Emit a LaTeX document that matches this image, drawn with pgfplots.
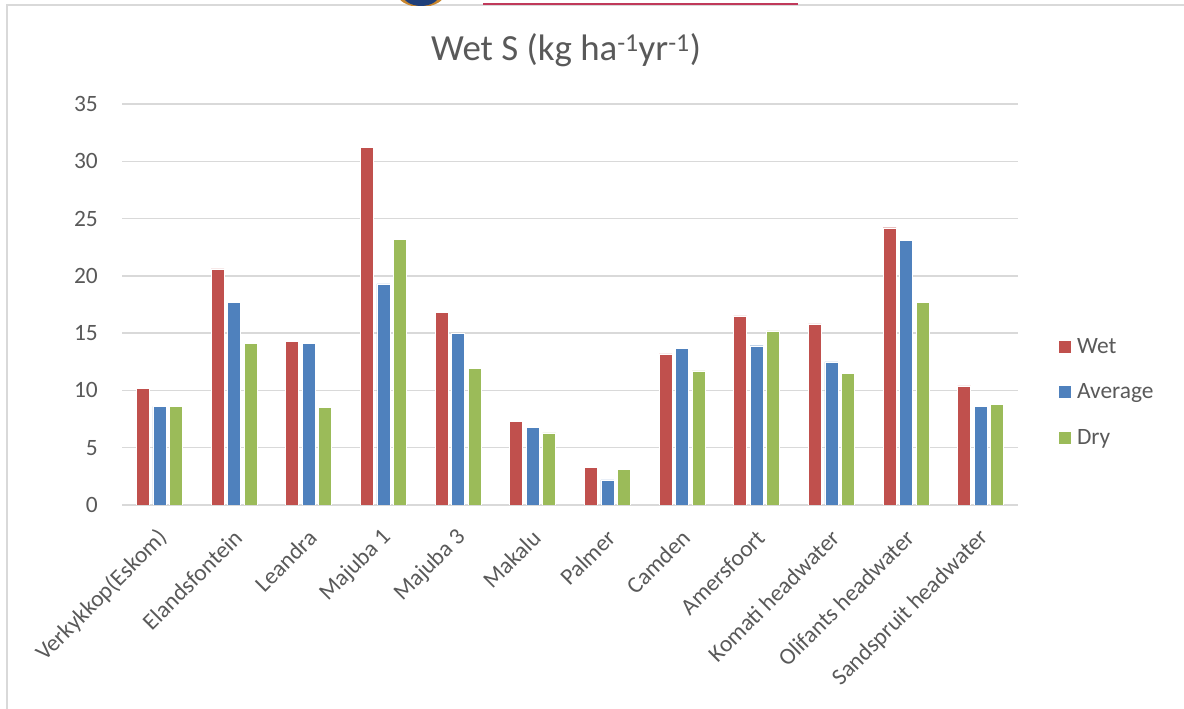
\documentclass[border=0pt]{standalone}
\usepackage{pgfplots}
\pgfplotsset{compat=1.18}
\usepackage{pgfplotstable}
\usepackage{fontspec}
\setmainfont{Carlito}

\definecolor{wetc}{HTML}{C0504D}
\definecolor{avgc}{HTML}{4F81BD}
\definecolor{dryc}{HTML}{9BBB59}
\definecolor{gridc}{HTML}{D9D9D9}
\definecolor{txtc}{HTML}{595959}
\definecolor{logoblue}{HTML}{1F3F7A}
\definecolor{logoorange}{HTML}{C8862E}
\definecolor{rulered}{HTML}{C0395A}

% Wet S deposition (kg ha^-1 yr^-1) per site: wet, average and dry years
\pgfplotstableread{
idx wet  avg  dry
0   10.2 8.6  8.6
1   20.6 17.7 14.1
2   14.3 14.1 8.5
3   31.2 19.3 23.2
4   16.8 15.0 11.9
5   7.3  6.8  6.3
6   3.3  2.2  3.1
7   13.2 13.7 11.7
8   16.5 13.9 15.2
9   15.8 12.5 11.5
10  24.2 23.1 17.7
11  10.4 8.6  8.8
}\depdata

\begin{document}
\begin{tikzpicture}
\useasboundingbox (0bp,0bp) rectangle (1184bp,709bp);

% page frame and header remnants
\draw[gridc, line width=2bp] (7bp,0bp) -- (7bp,704bp) -- (1184bp,704bp);
\draw[rulered, line width=2bp] (483bp,705bp) -- (798bp,705bp);
\begin{scope}
  \clip (390bp,703bp) rectangle (460bp,709bp);
  \fill[logoorange] (421bp,716bp) ellipse (24bp and 14bp);
  \fill[logoblue] (421bp,716bp) ellipse (19bp and 13bp);
\end{scope}

\begin{axis}[
  at={(122bp,204bp)}, anchor=south west,
  scale only axis, width=896bp, height=401bp,
  ybar=3.5bp, bar width=13bp,
  xmin=-0.5, xmax=11.5, ymin=0, ymax=35,
  xtick=data,
  xticklabels={Verkykkop(Eskom),Elandsfontein,Leandra,Majuba 1,Majuba 3,Makalu,Palmer,Camden,Amersfoort,Komati headwater,Olifants headwater,Sandspruit headwater},
  ytick={0,5,...,35},
  ymajorgrids, grid style={gridc, line width=1.4bp},
  axis line style={draw=none},
  major tick length=0pt,
  tick label style={font=\fontsize{23.5}{28}\selectfont, text=txtc},
  /pgf/number format/assume math mode=true,
  yticklabel style={anchor=east, inner sep=0pt, xshift=-24bp},
  xticklabel style={xshift=4bp, yshift=-29bp, rotate=45, anchor=east, inner sep=0pt},
  legend style={draw=none, fill=none, at={(1.0446,0.2818)}, anchor=west,
    font=\fontsize{23.5}{28}\selectfont, text=txtc, row sep=24bp, column sep=3bp,
    inner sep=0pt, nodes={inner sep=2.5bp}},
  legend cell align=left,
  legend image code/.code={\fill[#1] (0bp,-6.5bp) rectangle (13bp,6.5bp);},
]
\addplot[fill=wetc, draw=white, line width=0.4bp] table[x=idx,y=wet]{\depdata};
\addplot[fill=avgc, draw=white, line width=0.4bp] table[x=idx,y=avg]{\depdata};
\addplot[fill=dryc, draw=white, line width=0.4bp] table[x=idx,y=dry]{\depdata};
\legend{Wet,Average,Dry}
\end{axis}

\node[text=txtc, font=\fontsize{37}{42}\selectfont] at (566bp,659bp)
  {Wet S (kg ha\textsuperscript{-1}yr\textsuperscript{-1})};
\end{tikzpicture}
\end{document}
